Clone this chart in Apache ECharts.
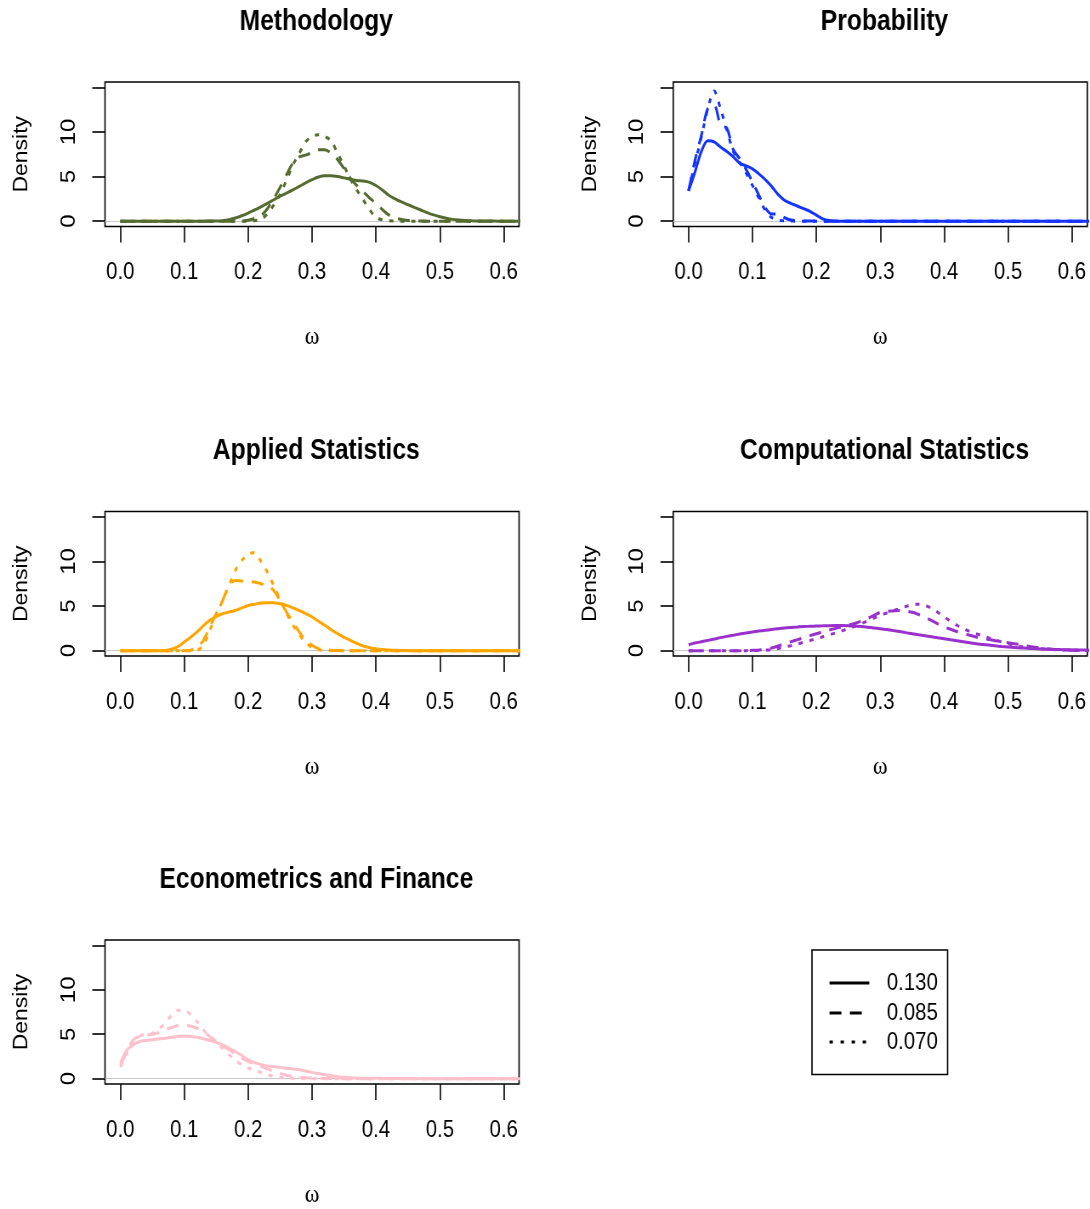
<!DOCTYPE html>
<html><head><meta charset="utf-8">
<script src="https://cdn.jsdelivr.net/npm/echarts@6/dist/echarts.min.js"></script>
<style>
html,body{margin:0;padding:0;background:#fff;overflow:hidden;width:1090px;height:1209px}
#wrap{width:1090px;height:1209px;overflow:hidden;position:relative}
#chart{width:1282px;height:1209px;transform:scaleX(0.850234);transform-origin:0 0;}
</style>
</head><body><div id="wrap"><div id="chart"></div></div>
<script>
// ---------- data ----------
const panels = ['Methodology','Probability','Applied Statistics','Computational Statistics','Econometrics and Finance'];
const colors = ['#556B2F','#1433ff','#FFA500','#9932CC','#FFC0CB'];
const bandwidths = ['0.130','0.085','0.070'];
const xTicks = [0, 0.1, 0.2, 0.3, 0.4, 0.5, 0.6];
const yTicks = [0, 5, 10, 15];
const yLabels = [0, 5, 10];
const xGrid = [0.00,0.01,0.02,0.03,0.04,0.05,0.06,0.07,0.08,0.09,
               0.10,0.11,0.12,0.13,0.14,0.15,0.16,0.17,0.18,0.19,
               0.20,0.21,0.22,0.23,0.24,0.25,0.26,0.27,0.28,0.29,
               0.30,0.31,0.32,0.33,0.34,0.35,0.36,0.37,0.38,0.39,
               0.40,0.41,0.42,0.43,0.44,0.45,0.46,0.47,0.48,0.49,
               0.50,0.51,0.52,0.53,0.54,0.55,0.56,0.57,0.58,0.59,
               0.60,0.61,0.62,0.63];

const methSolid  = [0,0,0,0,0,0,0,0,0,0, 0,0,0,0,0.01,0.02,0.05,0.15,0.35,0.6,
                    0.9,1.25,1.6,2.0,2.4,2.8,3.15,3.5,3.9,4.3, 4.65,4.95,5.1,5.1,5.0,4.85,4.7,4.55,4.5,4.35,
                    4.0,3.5,2.9,2.5,2.15,1.85,1.55,1.25,0.95,0.7, 0.5,0.33,0.2,0.12,0.07,0.04,0.02,0.01,0.01,0, 0,0,0,0];
const methDashed = [0,0,0,0,0,0,0,0,0,0, 0,0,0,0,0,0,0,0,0,0,
                    0.1,0.3,0.6,1.4,2.5,3.8,5.2,6.5,7.2,7.4, 7.7,8.0,8.0,7.6,6.9,5.9,4.8,4.0,3.3,2.6,
                    2.0,1.3,0.7,0.35,0.18,0.08,0.03,0.01,0,0, 0,0,0,0,0,0,0,0,0,0, 0,0,0,0];
const methDotted = [0,0,0,0,0,0,0,0,0,0, 0,0,0,0,0,0,0,0,0,0,
                    0,0.05,0.2,0.8,1.8,3.0,4.6,6.3,7.6,8.9, 9.5,9.7,9.5,9.0,7.6,6.2,4.7,3.5,2.4,1.3,
                    0.4,0.15,0.05,0.02,0,0,0,0,0,0, 0,0,0,0,0,0,0,0,0,0, 0,0,0,0];

const probSolid  = [3.4,5.5,7.8,9.0,8.9,8.3,7.8,7.2,6.5,6.2, 5.86,5.3,4.66,3.9,3.0,2.35,2.0,1.7,1.4,1.1,
                    0.67,0.26,0.07,0.02,0,0,0,0,0,0, 0,0,0,0,0,0,0,0,0,0,
                    0,0,0,0,0,0,0,0,0,0, 0,0,0,0,0,0,0,0,0,0, 0,0,0,0];
const probDashed = [3.4,6.8,9.6,12.6,13.0,10.8,10.4,8.0,7.0,5.8, 4.4,2.9,1.5,0.8,0.8,0.4,0.12,0.05,0.03,0.02,
                    0.01,0,0,0,0,0,0,0,0,0, 0,0,0,0,0,0,0,0,0,0,
                    0,0,0,0,0,0,0,0,0,0, 0,0,0,0,0,0,0,0,0,0, 0,0,0,0];
const probDotted = [3.4,6.5,9.4,12.6,14.6,12.6,10.2,7.8,6.6,5.4, 4.0,2.6,1.2,0.4,0.12,0.04,0.01,0,0,0,
                    0,0,0,0,0,0,0,0,0,0, 0,0,0,0,0,0,0,0,0,0,
                    0,0,0,0,0,0,0,0,0,0, 0,0,0,0,0,0,0,0,0,0, 0,0,0,0];

const applSolid  = [0,0,0,0,0,0,0,0.02,0.15,0.45, 0.97,1.5,2.1,2.8,3.4,3.84,4.14,4.33,4.5,4.8,
                    5.07,5.2,5.33,5.37,5.37,5.25,5.07,4.8,4.5,4.15, 3.77,3.3,2.84,2.35,1.9,1.5,1.16,0.82,0.52,0.34,
                    0.22,0.13,0.08,0.05,0.03,0.01,0,0,0,0, 0,0,0,0,0,0,0,0,0,0, 0,0,0,0];
const applDashed = [0,0,0,0,0,0,0,0,0,0, 0,0.05,0.4,1.16,2.65,4.14,5.6,7.3,7.87,7.8,
                    7.76,7.7,7.5,7.3,6.75,5.6,4.33,3.2,2.1,1.16, 0.6,0.22,0.1,0.05,0.02,0,0,0,0,0,
                    0,0,0,0,0,0,0,0,0,0, 0,0,0,0,0,0,0,0,0,0, 0,0,0,0];
const applDotted = [0,0,0,0,0,0,0,0,0,0, 0,0,0.05,0.6,2.3,3.96,5.6,7.3,9.0,10.1,
                    10.8,11.0,10.0,8.8,7.3,5.7,4.2,2.9,1.8,0.9, 0.35,0.1,0.03,0,0,0,0,0,0,0,
                    0,0,0,0,0,0,0,0,0,0, 0,0,0,0,0,0,0,0,0,0, 0,0,0,0];

const compSolid  = [0.67,0.85,1.0,1.15,1.3,1.46,1.6,1.73,1.86,1.98, 2.09,2.19,2.28,2.37,2.46,2.54,2.6,2.65,2.7,2.73,
                    2.76,2.78,2.8,2.81,2.81,2.8,2.76,2.7,2.63,2.55, 2.46,2.36,2.25,2.14,2.02,1.9,1.78,1.67,1.56,1.45,
                    1.34,1.22,1.11,1.0,0.89,0.78,0.7,0.62,0.54,0.47, 0.41,0.36,0.31,0.27,0.23,0.19,0.16,0.14,0.12,0.1, 0.08,0.07,0.06,0.05];
const compDashed = [0,0,0,0,0,0,0,0,0,0, 0.04,0.08,0.15,0.3,0.52,0.78,1.0,1.22,1.45,1.68,
                    1.9,2.1,2.3,2.5,2.68,2.84,3.05,3.3,3.6,3.95, 4.3,4.4,4.45,4.5,4.45,4.3,4.05,3.75,3.4,3.0,
                    2.65,2.4,2.15,1.93,1.72,1.53,1.38,1.24,1.12,1.0, 0.9,0.78,0.65,0.52,0.4,0.3,0.22,0.16,0.11,0.07, 0.04,0.03,0.02,0.01];
const compDotted = [0,0,0,0,0,0,0,0,0,0, 0.02,0.04,0.07,0.1,0.25,0.41,0.56,0.74,0.93,1.13,
                    1.34,1.55,1.77,1.99,2.22,2.46,2.74,3.03,3.33,3.65, 3.96,4.22,4.47,4.7,4.95,5.15,5.2,5.07,4.75,4.3,
                    3.77,3.3,2.85,2.46,2.15,1.9,1.66,1.42,1.2,0.98, 0.78,0.62,0.48,0.37,0.28,0.22,0.17,0.13,0.1,0.07, 0.05,0.04,0.03,0.02];

const econSolid  = [1.75,3.2,3.8,4.18,4.3,4.37,4.45,4.55,4.65,4.75, 4.8,4.75,4.66,4.5,4.3,4.08,3.8,3.45,3.06,2.6,
                    2.13,1.8,1.57,1.43,1.34,1.27,1.18,1.09,1.0,0.86, 0.71,0.57,0.45,0.34,0.23,0.15,0.1,0.07,0.05,0.04,
                    0.04,0.03,0.02,0.02,0.01,0.01,0,0,0,0, 0,0,0,0,0,0,0,0,0,0, 0,0,0,0];
const econDashed = [1.4,3.0,4.37,4.74,4.9,5.0,5.2,5.5,5.75,5.97, 6.0,5.9,5.67,5.25,4.74,4.18,3.7,3.25,2.75,2.3,
                    1.94,1.65,1.38,1.1,0.82,0.58,0.37,0.24,0.15,0.09, 0.06,0.04,0.03,0.02,0.01,0,0,0,0,0,
                    0,0,0,0,0,0,0,0,0,0, 0,0,0,0,0,0,0,0,0,0, 0,0,0,0];
const econDotted = [1.3,2.8,4.2,4.8,5.0,5.1,5.6,6.2,7.16,7.7, 7.7,7.2,6.4,5.5,4.55,4.0,3.43,2.7,2.05,1.57,
                    1.2,0.95,0.7,0.45,0.26,0.15,0.08,0.04,0.02,0, 0,0,0,0,0,0,0,0,0,0,
                    0,0,0,0,0,0,0,0,0,0, 0,0,0,0,0,0,0,0,0,0, 0,0,0,0];

const panelSeries = [
  [methSolid, methDashed, methDotted],
  [probSolid, probDashed, probDotted],
  [applSolid, applDashed, applDotted],
  [compSolid, compDashed, compDotted],
  [econSolid, econDashed, econDotted]
];

// ---------- layout (drawing space is 1282 wide, squeezed to 1090 by CSS) ----------
const colLeft = [123.5, 791.8];
const rowTop = [82, 511.5, 940];
const boxW = 487, boxH = 144.5;
const FONT = "'Liberation Sans', Arial, Helvetica, sans-serif";
const dashTypes = ['solid', [14, 10], [5, 8]];

const grids = [], xAxes = [], yAxes = [], titles = [], series = [];
panels.forEach((name, i) => {
  const left = colLeft[i % 2], top = rowTop[Math.floor(i / 2)];
  grids.push({left: left, top: top, width: boxW, height: boxH, show: true,
    borderColor: '#000', borderWidth: 1.6, backgroundColor: 'transparent', containLabel: false});
  titles.push({text: name, left: left + boxW / 2, top: top - 80, textAlign: 'center',
    textStyle: {fontFamily: FONT, fontSize: 29, fontWeight: 'bold', color: '#000'}});
  xAxes.push({type: 'value', gridIndex: i, min: -0.024, max: 0.624, position: 'bottom',
    axisLine: {show: false, onZero: false}, splitLine: {show: false},
    axisTick: {show: true, inside: false, customValues: xTicks, length: 16, lineStyle: {color: '#000', width: 1.6}},
    axisLabel: {customValues: xTicks, formatter: v => v.toFixed(1), fontSize: 24, color: '#000',
      fontFamily: FONT, margin: 34},
    name: 'ω', nameLocation: 'middle', nameGap: 98,
    nameTextStyle: {fontFamily: "'Liberation Serif','DejaVu Serif',serif", fontSize: 26, color: '#000'}});
  yAxes.push({type: 'value', gridIndex: i, min: -0.6, max: 15.6, position: 'left',
    axisLine: {show: false, onZero: false}, splitLine: {show: false},
    axisTick: {show: true, inside: false, customValues: yTicks, length: 15, lineStyle: {color: '#000', width: 1.6}},
    axisLabel: {customValues: yLabels, rotate: 90, fontSize: 24, color: '#000', fontFamily: FONT, margin: 30},
    name: 'Density', nameLocation: 'middle', nameRotate: 90, nameGap: 86,
    nameTextStyle: {fontFamily: FONT, fontSize: 23, color: '#000'}});
  panelSeries[i].forEach((ys, k) => {
    const s = {
      type: 'line', name: name + ' ' + bandwidths[k], xAxisIndex: i, yAxisIndex: i,
      data: xGrid.map((x, j) => [x, ys[j]]),
      symbol: 'none', showSymbol: false, smooth: 0.3, clip: true, animation: false,
      lineStyle: {color: colors[i], width: 3, type: dashTypes[k]}, z: 3
    };
    if (k === 0) {
      s.markLine = {silent: true, symbol: 'none', animation: false, label: {show: false},
        lineStyle: {color: '#c8c8c8', width: 1, type: 'solid'}, data: [{yAxis: 0}], z: 1};
    }
    series.push(s);
  });
});

// legend panel (bottom right), built from the bandwidth labels
const legBox = {x: 955, y: 950, w: 159.5, h: 124.5};
const legRowY = [983, 1013, 1042];
const graphics = [{type: 'rect', shape: {x: legBox.x, y: legBox.y, width: legBox.w, height: legBox.h},
  style: {fill: 'none', stroke: '#000', lineWidth: 1.6}}];
bandwidths.forEach((b, k) => {
  graphics.push({type: 'line', shape: {x1: 975.6, y1: legRowY[k], x2: 1022.4, y2: legRowY[k]},
    style: {stroke: '#000', lineWidth: 3, lineDash: k === 0 ? null : (k === 2 ? [4, 9] : dashTypes[k])}});
  graphics.push({type: 'text', x: 1043, y: legRowY[k],
    style: {text: b, fill: '#000', font: '24px ' + FONT, verticalAlign: 'middle', align: 'left'}});
});

const chart = echarts.init(document.getElementById('chart'), null, {renderer: 'canvas'});
chart.setOption({
  animation: false,
  backgroundColor: '#fff',
  title: titles,
  grid: grids,
  xAxis: xAxes,
  yAxis: yAxes,
  series: series,
  graphic: graphics
});
</script></body></html>
